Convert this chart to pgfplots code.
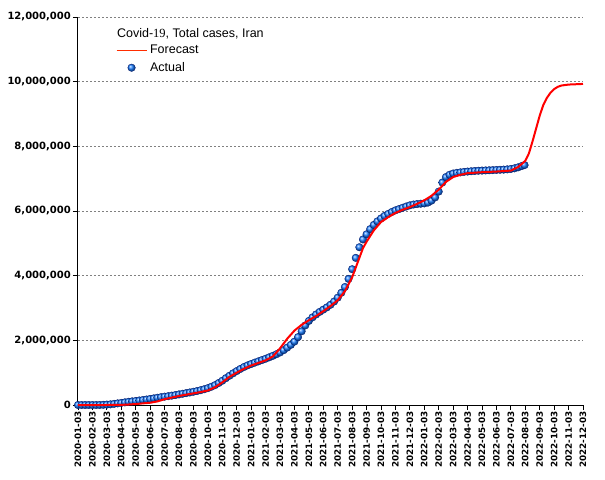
\documentclass[border=0pt]{standalone}
\usepackage{pgfplots}
\pgfplotsset{compat=1.18}
\usepackage{fontspec}
\setmainfont{DejaVu Sans}
\newfontfamily\libsans{Liberation Sans}
\newfontfamily\libserif{Liberation Serif}
\definecolor{ballblue}{RGB}{25,125,255}
\definecolor{balledge}{RGB}{0,20,110}
\definecolor{fcred}{RGB}{255,0,0}
\definecolor{legred}{RGB}{255,45,0}
\pgfplotsset{
  mylinelegend/.style={legend image code/.code={\draw[legred, line width=1bp] (0bp,0bp) -- (30bp,0bp);}},
  mymarklegend/.style={legend image code/.code={\draw[##1] plot coordinates {(15bp,0bp)};}},
}
\begin{document}
\begin{tikzpicture}
\begin{axis}[
  name=ax,
  scale only axis, width=505bp, height=388bp,
  xmin=0, xmax=35, ymin=0, ymax=12,
  axis x line=bottom, axis y line=left,
  axis line style={-, black, line width=1bp},
  tick align=outside, major tick length=5bp,
  tick style={black, line width=0.8bp},
  xtick={0,...,35},
  xticklabels={2020-01-03,2020-02-03,2020-03-03,2020-04-03,2020-05-03,2020-06-03,2020-07-03,2020-08-03,2020-09-03,2020-10-03,2020-11-03,2020-12-03,
  2021-01-03,2021-02-03,2021-03-03,2021-04-03,2021-05-03,2021-06-03,2021-07-03,2021-08-03,2021-09-03,2021-10-03,2021-11-03,2021-12-03,
  2022-01-03,2022-02-03,2022-03-03,2022-04-03,2022-05-03,2022-06-03,2022-07-03,2022-08-03,2022-09-03,2022-10-03,2022-11-03,2022-12-03},
  xticklabel style={rotate=90, anchor=east, font=\bfseries\fontsize{8.8bp}{10bp}\selectfont, inner sep=1.5bp},
  ytick={0,2,4,6,8,10,12},
  yticklabels={0,{2,000,000},{4,000,000},{6,000,000},{8,000,000},{10,000,000},{12,000,000}},
  yticklabel style={font=\bfseries\fontsize{10bp}{12bp}\selectfont, inner sep=2bp},
  ymajorgrids,
  grid style={gray, dash pattern=on 2bp off 2bp, line width=0.8bp},
  clip=false, clip marker paths=true,
  legend style={at={(rel axis cs:0.075,0.93)}, anchor=north west, draw=none, fill=none,
    inner sep=0pt, row sep=5bp, column sep=2bp,
    nodes={inner sep=1bp},
    font=\libsans\fontsize{12.5bp}{15bp}\selectfont},
  legend cell align=left,
]
\addlegendimage{mylinelegend}
\addlegendentry{Forecast}
\addplot[only marks, mark=ball, mark size=3.8bp, ball color=ballblue,
  mark options={draw=balledge, line width=0.3bp}, mymarklegend] coordinates {
(0,0.000) (0.25,0.000) (0.5,0.000) (0.75,0.000) (1,0.000) (1.25,0.000) (1.5,0.001) (1.75,0.005)
(2,0.012) (2.25,0.020) (2.5,0.035) (2.75,0.050) (3,0.065) (3.25,0.082) (3.5,0.098) (3.75,0.112)
(4,0.125) (4.25,0.140) (4.5,0.155) (4.75,0.170) (5,0.188) (5.25,0.205) (5.5,0.225) (5.75,0.242)
(6,0.258) (6.25,0.273) (6.5,0.290) (6.75,0.308) (7,0.328) (7.25,0.348) (7.5,0.368) (7.75,0.388)
(8,0.410) (8.25,0.432) (8.5,0.458) (8.75,0.488) (9,0.522) (9.25,0.565) (9.5,0.615) (9.75,0.680)
(10,0.750) (10.25,0.830) (10.5,0.905) (10.75,0.980) (11,1.050) (11.25,1.115) (11.5,1.175) (11.75,1.225)
(12,1.268) (12.25,1.310) (12.5,1.350) (12.75,1.390) (13,1.430) (13.25,1.475) (13.5,1.520) (13.75,1.570)
(14,1.625) (14.25,1.695) (14.5,1.775) (14.75,1.860) (15,1.960) (15.25,2.100) (15.5,2.280) (15.75,2.460)
(16,2.600) (16.25,2.710) (16.5,2.800) (16.75,2.880) (17,2.950) (17.25,3.020) (17.5,3.100) (17.75,3.200)
(18,3.320) (18.25,3.470) (18.5,3.650) (18.75,3.900) (19,4.200) (19.25,4.550) (19.5,4.880) (19.75,5.120)
(20,5.280) (20.25,5.440) (20.5,5.570) (20.75,5.680) (21,5.770) (21.25,5.850) (21.5,5.910) (21.75,5.970)
(22,6.020) (22.25,6.060) (22.5,6.100) (22.75,6.140) (23,6.175) (23.25,6.200) (23.5,6.215) (23.75,6.225)
(24,6.235) (24.25,6.260) (24.5,6.320) (24.75,6.420) (25,6.600) (25.25,6.880) (25.5,7.050) (25.75,7.120)
(26,7.160) (26.25,7.180) (26.5,7.195) (26.75,7.210) (27,7.220) (27.25,7.230) (27.5,7.238) (27.75,7.245)
(28,7.250) (28.25,7.255) (28.5,7.260) (28.75,7.265) (29,7.270) (29.25,7.275) (29.5,7.280) (29.75,7.288)
(30,7.300) (30.25,7.320) (30.5,7.350) (30.75,7.390) (30.95,7.420)
};
\addlegendentry{Actual}
\addplot[fcred, line width=2bp, no markers, forget plot] coordinates {
(0,0) (1,0) (2,0) (3,0.005) (3.5,0.015) (4,0.03) (4.5,0.05) (5,0.07) (5.5,0.11) (6,0.18) (6.5,0.23)
(7,0.28) (7.5,0.32) (8,0.36) (8.5,0.40) (9,0.45) (9.5,0.55) (10,0.70) (10.5,0.87) (11,1.00) (11.5,1.12)
(12,1.22) (12.5,1.30) (13,1.38) (13.5,1.50) (14,1.75) (14.5,2.05) (15,2.30) (15.5,2.48) (16,2.62)
(16.5,2.75) (17,2.90) (17.5,3.06) (18,3.24) (18.5,3.52) (19,3.95) (19.25,4.25) (19.5,4.55) (19.75,4.85)
(20,5.05) (20.5,5.40) (21,5.66) (21.5,5.81) (22,5.94) (22.5,6.04) (23,6.12) (23.5,6.22) (24,6.33)
(24.5,6.47) (25,6.66) (25.5,6.90) (26,7.05) (26.5,7.12) (27,7.17) (28,7.20) (29,7.22) (30,7.25)
(30.5,7.36) (31,7.55) (31.25,7.78) (31.5,8.15) (31.75,8.55) (32,8.95) (32.25,9.28) (32.5,9.50)
(32.75,9.66) (33,9.77) (33.25,9.84) (33.5,9.88) (34,9.91) (34.5,9.92) (35,9.93)
};
\node[anchor=base west, inner sep=0pt, font=\libsans\fontsize{12.5bp}{15bp}\selectfont]
  at (rel axis cs:0.077,0.948) {Covid-{\libserif 19}, Total cases, Iran};
\end{axis}
\path ([shift={(-78bp,-75bp)}]ax.south west) rectangle ([shift={(22bp,17bp)}]ax.north east);
\end{tikzpicture}
\end{document}
